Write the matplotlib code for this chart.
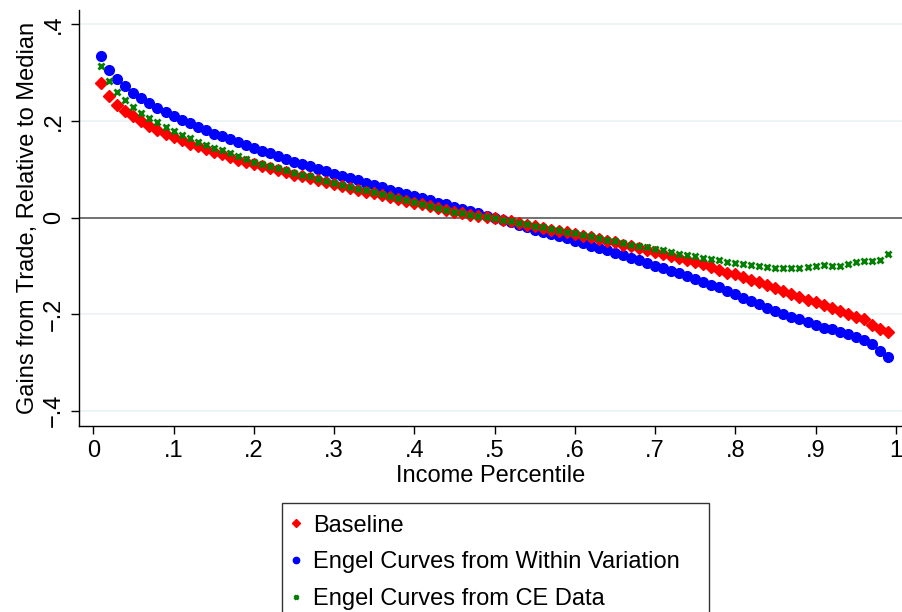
import numpy as np
import matplotlib
matplotlib.use("Agg")
import matplotlib.pyplot as plt

plt.rcParams['font.family'] = ['Liberation Sans', 'DejaVu Sans']

percentile = [round(0.01 * i, 2) for i in range(1, 100)]

baseline = [
    0.279, 0.252, 0.234, 0.221, 0.210, 0.199, 0.190, 0.181, 0.174, 0.167,
    0.160, 0.153, 0.148, 0.142, 0.136, 0.131, 0.125, 0.120, 0.116, 0.111,
    0.107, 0.102, 0.099, 0.094, 0.089, 0.085, 0.081, 0.077, 0.073, 0.069,
    0.065, 0.061, 0.057, 0.053, 0.050, 0.046, 0.042, 0.038, 0.035, 0.031,
    0.027, 0.024, 0.020, 0.016, 0.012, 0.009, 0.006, 0.003, 0.001, -0.002,
    -0.005, -0.008, -0.011, -0.015, -0.018, -0.021, -0.025, -0.028, -0.031, -0.034,
    -0.038, -0.041, -0.045, -0.048, -0.051, -0.056, -0.059, -0.063, -0.067, -0.072,
    -0.076, -0.080, -0.084, -0.088, -0.093, -0.097, -0.102, -0.108, -0.114, -0.118,
    -0.123, -0.129, -0.134, -0.140, -0.147, -0.152, -0.159, -0.164, -0.170, -0.175,
    -0.181, -0.188, -0.193, -0.199, -0.206, -0.211, -0.222, -0.231, -0.238,
]

within = [
    0.334, 0.306, 0.287, 0.272, 0.258, 0.247, 0.237, 0.227, 0.219, 0.211,
    0.203, 0.195, 0.188, 0.181, 0.174, 0.168, 0.162, 0.156, 0.150, 0.145,
    0.138, 0.133, 0.127, 0.122, 0.116, 0.111, 0.106, 0.101, 0.096, 0.091,
    0.087, 0.082, 0.077, 0.072, 0.067, 0.063, 0.058, 0.053, 0.049, 0.044,
    0.040, 0.036, 0.031, 0.027, 0.022, 0.018, 0.013, 0.009, 0.004, 0.000,
    -0.005, -0.010, -0.015, -0.020, -0.025, -0.030, -0.034, -0.038, -0.042, -0.048,
    -0.053, -0.058, -0.063, -0.068, -0.073, -0.078, -0.084, -0.089, -0.094, -0.100,
    -0.105, -0.111, -0.116, -0.122, -0.127, -0.133, -0.139, -0.145, -0.152, -0.159,
    -0.166, -0.172, -0.180, -0.188, -0.194, -0.199, -0.206, -0.211, -0.217, -0.223,
    -0.228, -0.232, -0.237, -0.242, -0.248, -0.254, -0.262, -0.277, -0.289,
]

ce_data = [
    0.314, 0.282, 0.260, 0.244, 0.229, 0.217, 0.206, 0.197, 0.188, 0.179,
    0.171, 0.164, 0.157, 0.151, 0.145, 0.139, 0.133, 0.127, 0.121, 0.116,
    0.111, 0.107, 0.103, 0.098, 0.093, 0.089, 0.085, 0.080, 0.076, 0.072,
    0.068, 0.064, 0.060, 0.056, 0.052, 0.048, 0.044, 0.040, 0.036, 0.032,
    0.028, 0.024, 0.020, 0.016, 0.012, 0.009, 0.006, 0.003, 0.001, -0.002,
    -0.005, -0.008, -0.011, -0.014, -0.017, -0.020, -0.023, -0.026, -0.029, -0.033,
    -0.036, -0.039, -0.042, -0.046, -0.049, -0.052, -0.056, -0.058, -0.062, -0.065,
    -0.068, -0.072, -0.075, -0.078, -0.080, -0.083, -0.086, -0.089, -0.092, -0.094,
    -0.096, -0.098, -0.101, -0.103, -0.105, -0.105, -0.105, -0.105, -0.103, -0.101,
    -0.098, -0.100, -0.100, -0.097, -0.092, -0.090, -0.091, -0.087, -0.076,
]

labels = ["Baseline", "Engel Curves from Within Variation", "Engel Curves from CE Data"]
xticks = [0, 0.1, 0.2, 0.3, 0.4, 0.5, 0.6, 0.7, 0.8, 0.9, 1.0]
xticklabels = ["0", ".1", ".2", ".3", ".4", ".5", ".6", ".7", ".8", ".9", "1"]
yticks = [-0.4, -0.2, 0, 0.2, 0.4]
yticklabels = ["\u2212.4", "\u2212.2", "0", ".2", ".4"]

FS = 17.0
W, H = 903, 612
fig = plt.figure(figsize=(W / 100, H / 100), dpi=100)
ax = fig.add_axes([79 / W, 1 - 426 / H, (903 - 79) / W, (426 - 10) / H])

ax.set_xlim(-0.0178, 1.009)
ax.set_ylim(-0.432, 0.430)

for y in [-0.4, -0.2, 0.2, 0.4]:
    ax.axhline(y, color='#EAF2F3', lw=1.2, zorder=0)
ax.axhline(0, color='#5a5a5a', lw=1.2, zorder=1)

ax.plot(percentile, baseline, linestyle='none', marker='D', markersize=6.4,
        color='#FF0000', mec='#FF0000', label=labels[0], zorder=3)
ax.plot(percentile, within, linestyle='none', marker='o', markersize=7.0,
        color='#0000FF', mec='#0000FF', label=labels[1], zorder=2)
ax.plot(percentile, ce_data, linestyle='none', marker='x', markersize=4.2,
        mew=2.0, color='#007F00', label=labels[2], zorder=4)

for s in ['top', 'right']:
    ax.spines[s].set_visible(False)
for s in ['left', 'bottom']:
    ax.spines[s].set_linewidth(1.0)
    ax.spines[s].set_color('black')

ax.set_xticks(xticks)
ax.set_xticklabels(xticklabels, fontsize=FS)
ax.set_yticks(yticks)
ax.set_yticklabels(yticklabels, fontsize=FS, rotation=90, va='center')
ax.tick_params(axis='both', direction='out', length=5.8, width=1, color='black')
ax.tick_params(axis='x', pad=4.6)
ax.tick_params(axis='y', pad=4.5)

ax.set_xlabel("Income Percentile", fontsize=FS, labelpad=2)
ax.set_ylabel("Gains from Trade, Relative to Median", fontsize=FS, labelpad=3)

leg = fig.legend(loc='upper left', bbox_to_anchor=(282 / W, 0, 427 / W, 1 - 503 / H),
                 bbox_transform=fig.transFigure, fontsize=FS, mode='expand',
                 frameon=True, fancybox=False, edgecolor='black',
                 borderpad=0.49, handlelength=0.2, handletextpad=0.62,
                 labelspacing=0.62, markerscale=0.65, borderaxespad=0)
leg.get_frame().set_linewidth(1.0)

fig.savefig("out.png", dpi=100)
